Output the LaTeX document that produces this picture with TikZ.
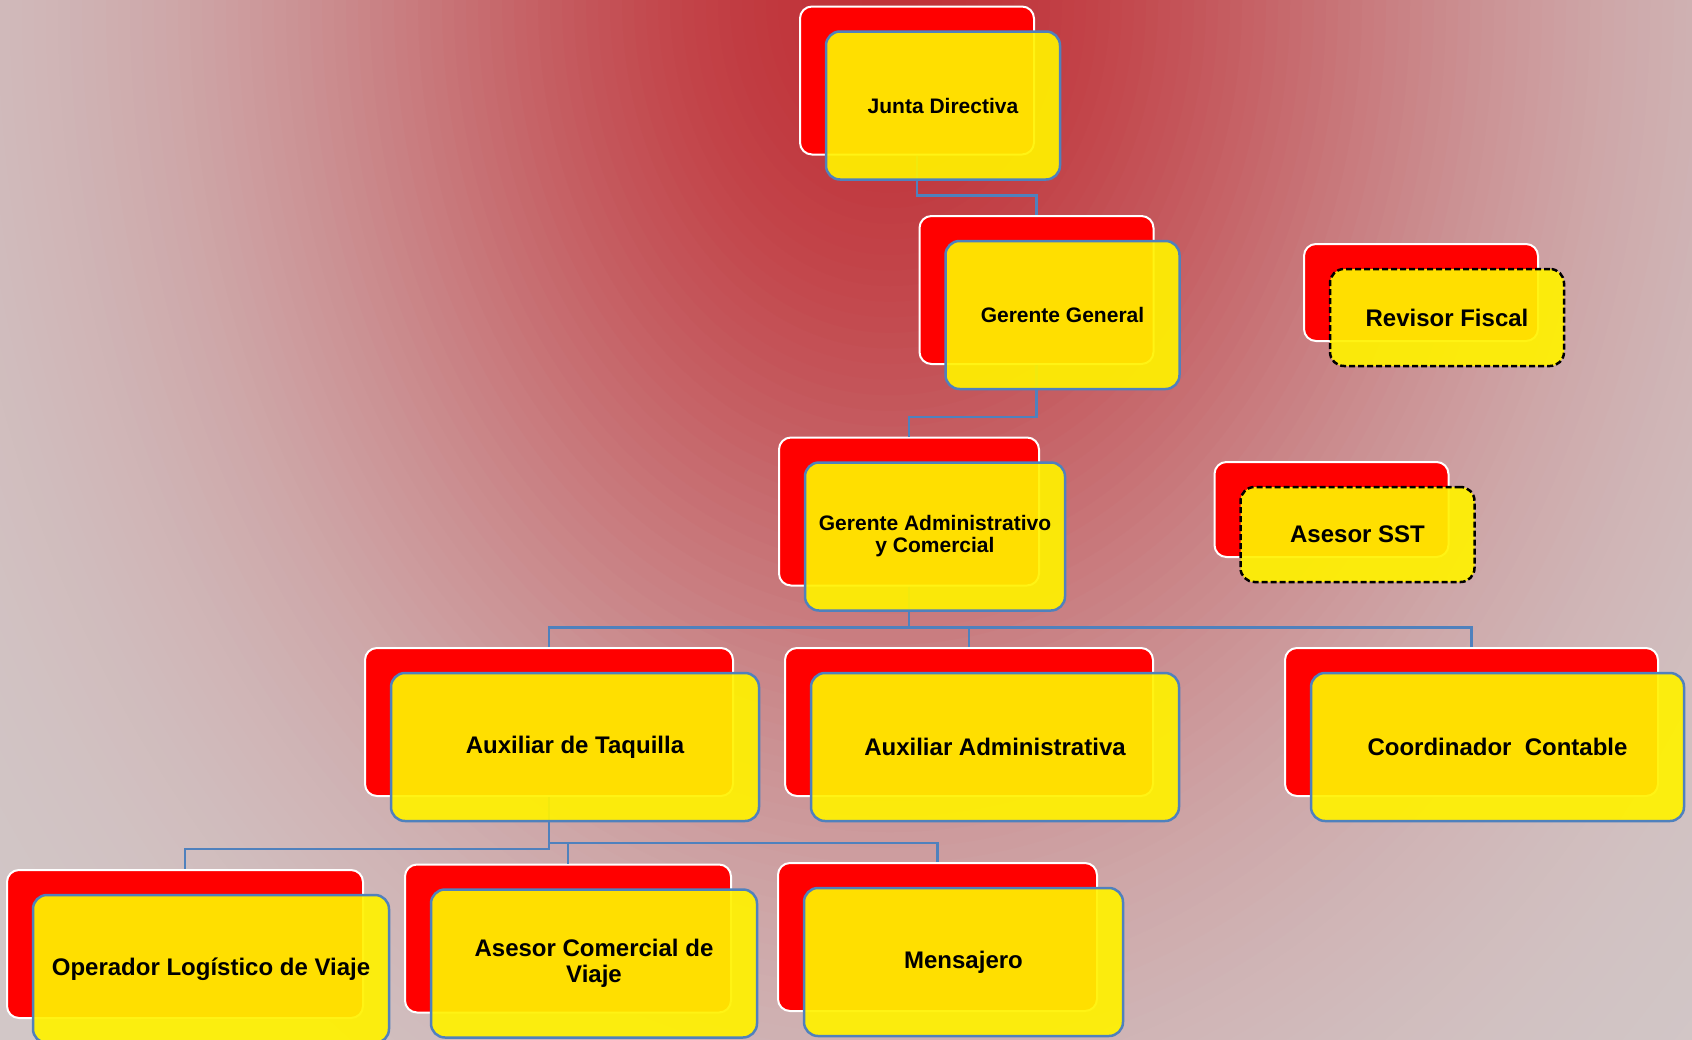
\documentclass[tikz,border=0pt]{standalone}
\usepackage{fontspec}
\setmainfont{Liberation Sans}
\usepackage{tikz}
\usetikzlibrary{calc,positioning}

\definecolor{bgred}{RGB}{192,50,56}
\definecolor{bggray}{RGB}{210,202,202}
\definecolor{cardblue}{RGB}{79,129,189}

\tikzset{
  redcard/.style={rounded corners=12pt, fill=red, draw=white, line width=2pt,
    minimum width=234pt, minimum height=148pt},
  ycard/.style={rounded corners=14pt, fill=yellow, fill opacity=0.92, text opacity=1,
    draw=cardblue, line width=2.5pt, minimum width=234pt, minimum height=148pt,
    align=center, font=\bfseries\fontsize{24}{26}\selectfont},
  dashcard/.style={ycard, draw=black, dash pattern=on 6pt off 3pt},
  link/.style={draw=cardblue, line width=2.5pt},
  small/.style={font=\bfseries\fontsize{21}{22}\selectfont}
}

\begin{document}
\begin{tikzpicture}[x=1pt, y=-1pt]
    \useasboundingbox (0,0) rectangle (1692,1039);
    % background glow
    \begin{scope}
        \clip (0,0) rectangle (1692,1039);
        \fill[bggray] (0,0) rectangle (1692,1039);
        \foreach \r in {1300,1288,...,0} {
            \pgfmathsetmacro\pct{100*exp(-(\r/600)*(\r/600))}
            \fill[bgred!\pct!bggray] (890,0) ellipse [x radius=\r, y radius=1.3*\r];
        }
    \end{scope}

    \def\dx{26}
    \def\dy{25}

    % red cards
    \node (jdr) [redcard] at (917,80.5) {};
    \node (ggr) [redcard] at (1036.5,290) {};
    \node (rfr) [redcard, minimum height=97pt] at (1421,292.5) {};
    \node (gacr) [redcard, minimum width=260pt] at (909,511.5) {};
    \node (sstr) [redcard, minimum height=95pt] at (1331.5,509.5) {};
    \node (taqr) [redcard, minimum width=368pt] at (549,722) {};
    \node (admr) [redcard, minimum width=368pt] at (969,722) {};
    \node (conr) [redcard, minimum width=373pt] at (1471.5,722) {};
    \node (oplr) [redcard, minimum width=356pt] at (185,944) {};
    \node (acvr) [redcard, minimum width=326pt] at (568,938.5) {};
    \node (menr) [redcard, minimum width=319pt] at (937.5,937) {};

    % links
    \draw[link] (jdr.south) -- ++(0,40) -| (ggr.north);
    \draw[link] (ggr.south) -- ++(0,52) -| (gacr.north);
    \draw[link] (gacr.south) -- ++(0,41) coordinate (j3);
    \draw[link] (j3) -| (taqr.north);
    \draw[link] (j3) -| (admr.north);
    \draw[link] (j3) -| (conr.north);
    \draw[link] (taqr.south) -- ++(0,52) -| (oplr.north);
    \draw[link] (taqr.south) -- ++(0,46) -| (acvr.north);
    \draw[link] (taqr.south) -- ++(0,46) -| (menr.north);

    % yellow cards
    \node (jdy) [ycard, small] at ($(jdr)+(\dx,\dy)$) {Junta Directiva};
    \node (ggy) [ycard, small] at ($(ggr)+(\dx,\dy)$) {Gerente General};
    \node (rfy) [dashcard, minimum height=97pt] at ($(rfr)+(\dx,\dy)$) {Revisor Fiscal};
    \node (gacy) [ycard, small, minimum width=260pt] at ($(gacr)+(\dx,\dy)$) {Gerente Administrativo\\y Comercial};
    \node (ssty) [dashcard, minimum height=95pt] at ($(sstr)+(\dx,\dy)$) {Asesor SST};
    \node (taqy) [ycard, minimum width=368pt] at ($(taqr)+(\dx,\dy)$) {Auxiliar de Taquilla};
    \node (admy) [ycard, minimum width=368pt] at ($(admr)+(\dx,\dy)$) {Auxiliar Administrativa};
    \node (cony) [ycard, minimum width=373pt] at ($(conr)+(\dx,\dy)$) {Coordinador~~Contable};
    \node (oply) [ycard, minimum width=356pt] at ($(oplr)+(\dx,\dy)$) {Operador Logístico de Viaje};
    \node (acvy) [ycard, minimum width=326pt] at ($(acvr)+(\dx,\dy)$) {Asesor Comercial de\\Viaje};
    \node (meny) [ycard, minimum width=319pt] at ($(menr)+(\dx,\dy)$) {Mensajero};
\end{tikzpicture}
\end{document}
